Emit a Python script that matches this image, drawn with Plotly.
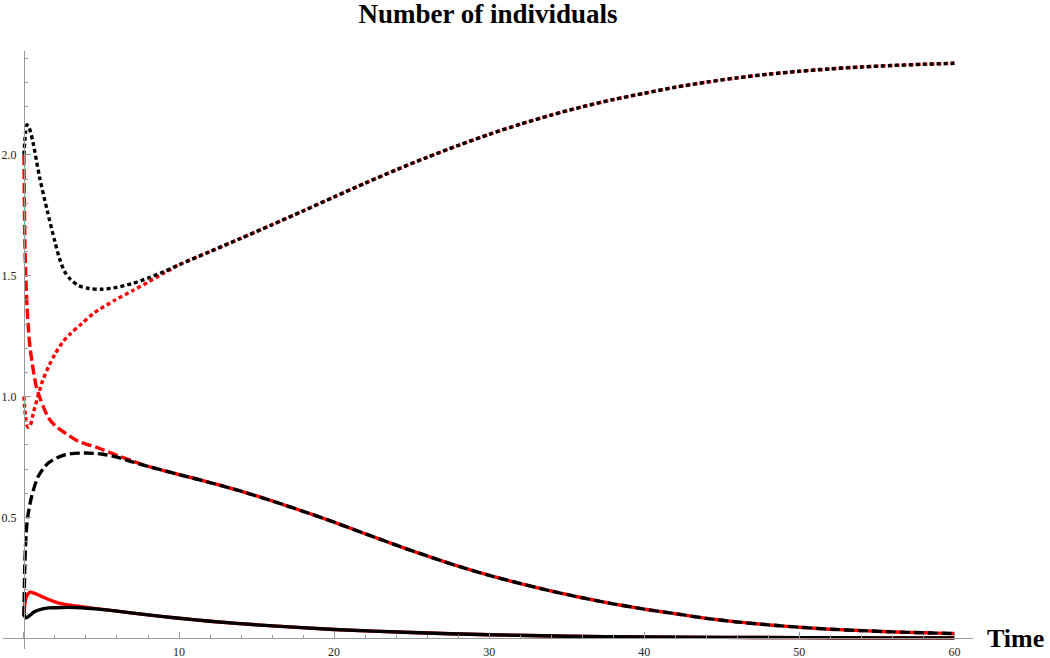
import plotly.graph_objects as go

# ---------------- data ----------------
# shared tails where red and black curves coincide
t_upper_tail = [10, 12, 14, 16, 18, 20, 22, 24, 26, 28, 30, 32, 34, 36, 38, 40, 42, 44, 46, 48, 50, 52, 54, 56, 58, 60]
v_upper_tail = [1.545, 1.600, 1.655, 1.711, 1.768, 1.826, 1.883, 1.938, 1.990, 2.039, 2.085, 2.127, 2.165, 2.199,
                2.229, 2.255, 2.280, 2.301, 2.319, 2.334, 2.346, 2.356, 2.364, 2.370, 2.375, 2.379]

t_mid_tail = [8, 10, 12, 14, 16, 18, 20, 22, 24, 26, 28, 30, 32, 34, 36, 38, 40, 42, 44, 46, 48, 50, 52, 54, 56, 58, 60]
v_mid_tail = [0.711, 0.677, 0.644, 0.608, 0.568, 0.525, 0.48, 0.432, 0.385, 0.34, 0.298, 0.26, 0.226, 0.195, 0.167,
              0.142, 0.12, 0.101, 0.082, 0.067, 0.055, 0.045, 0.037, 0.031, 0.026, 0.022, 0.019]

t_low_tail = [6, 8, 10, 12, 15, 20, 25, 30, 35, 40, 45, 50, 55, 60]
v_low_tail = [0.112, 0.096, 0.082, 0.070, 0.055, 0.036, 0.023, 0.014, 0.008, 0.005, 0.003, 0.002, 0.001, 0.001]

# early parts of each curve
t_black_dotted = [0, 0.1, 0.2, 0.35, 0.6, 1.0, 1.5, 2.0, 2.3, 2.6, 3.0, 3.5, 4.2, 5.0, 6.0, 7.0, 8.0, 9.0]
v_black_dotted = [2.0, 2.09, 2.125, 2.11, 2.047, 1.91, 1.77, 1.64, 1.57, 1.52, 1.485, 1.46, 1.447, 1.444, 1.452,
                  1.468, 1.490, 1.516]

t_red_dotted = [0, 0.1, 0.25, 0.4, 0.6, 0.9, 1.2, 1.6, 2.0, 2.5, 3.0, 3.7, 4.5, 5.9, 7.0, 8.0, 9.0]
v_red_dotted = [1.0, 0.92, 0.873, 0.88, 0.93, 1.0, 1.065, 1.125, 1.175, 1.225, 1.26, 1.30, 1.345, 1.40, 1.438,
                1.473, 1.51]

t_red_dashed = [0, 0.03, 0.06, 0.12, 0.2, 0.3, 0.4, 0.6, 0.8, 1.0, 1.3, 1.6, 2.0, 2.65, 3.5, 4.8, 6.0, 7.0]
v_red_dashed = [2.0, 1.8, 1.635, 1.5, 1.37, 1.27, 1.2, 1.11, 1.04, 1.0, 0.95, 0.91, 0.88, 0.849, 0.815, 0.787,
                0.757, 0.733]

t_black_dashed = [0, 0.06, 0.15, 0.24, 0.5, 0.92, 1.57, 2.65, 3.9, 5.0, 6.0, 7.0]
v_black_dashed = [0.09, 0.31, 0.44, 0.50, 0.587, 0.669, 0.725, 0.759, 0.766, 0.762, 0.749, 0.729]

t_red_solid = [0, 0.15, 0.4, 0.7, 1.1, 1.6, 2.2, 3.0, 3.7, 4.5]
v_red_solid = [0.1, 0.17, 0.19, 0.185, 0.174, 0.16, 0.146, 0.136, 0.13, 0.123]

t_black_solid = [0, 0.12, 0.3, 0.7, 1.2, 1.6, 2.5, 3.7, 4.8]
v_black_solid = [0.1, 0.084, 0.09, 0.11, 0.121, 0.125, 0.127, 0.126, 0.12]

x_tick_step = 10
y_tick_labels = ["0.5", "1.0", "1.5", "2.0"]
title_text = "Number of individuals"
x_label = "Time"

# ---------------- layout constants ----------------
W, H = 1050, 658
X_RANGE = [-1.35, 61.2]
Y_RANGE = [-0.045, 2.43]
M = dict(l=3, r=77, t=51, b=9)
AXIS_GRAY = "#9a9a9a"
FONT = "Liberation Serif"
RED = "#ff0000"
BLACK = "#000000"

DOT = "4px,3px"
DASH = "10px,4px"
LW = 3.4

fig = go.Figure()

def add(t_early, v_early, t_tail, v_tail, color, dash):
    fig.add_trace(go.Scatter(
        x=list(t_early) + list(t_tail), y=list(v_early) + list(v_tail),
        mode="lines", line=dict(color=color, width=LW, dash=dash, shape="spline", smoothing=0.8),
        showlegend=False, hoverinfo="skip"))

# red drawn first, black on top
add(t_red_dotted, v_red_dotted, t_upper_tail, v_upper_tail, RED, DOT)
add(t_red_dashed, v_red_dashed, t_mid_tail, v_mid_tail, RED, DASH)
add(t_red_solid, v_red_solid, t_low_tail, v_low_tail, RED, "solid")
add(t_black_dotted, v_black_dotted, t_upper_tail, v_upper_tail, BLACK, DOT)
add(t_black_dashed, v_black_dashed, t_mid_tail, v_mid_tail, BLACK, DASH)
add(t_black_solid, v_black_solid, t_low_tail, v_low_tail, BLACK, "solid")

x_pos = (0 - Y_RANGE[0]) / (Y_RANGE[1] - Y_RANGE[0])  # x-axis sits at y = 0
y_pos = (0 - X_RANGE[0]) / (X_RANGE[1] - X_RANGE[0])  # y-axis sits at t = 0

tick_font = dict(family=FONT, size=12, color="#222222")

fig.update_layout(
    width=W, height=H, margin=M,
    paper_bgcolor="white", plot_bgcolor="white",
    title=dict(text=f"<b>{title_text}</b>", font=dict(family=FONT, size=27, color="black"),
               x=0.5, xref="paper", xanchor="center", y=1 - 14 / H, yref="container", yanchor="middle"),
    xaxis=dict(range=X_RANGE, anchor="free", position=x_pos, showline=True, linecolor=AXIS_GRAY, linewidth=1,
               showgrid=False, zeroline=False, ticks="inside", ticklen=6, tickcolor=AXIS_GRAY, tickwidth=1,
               tickmode="linear", tick0=0, dtick=x_tick_step, labelalias={"0": ""}, ticklabelstandoff=2,
               minor=dict(ticks="inside", ticklen=3.5, dtick=2, tick0=0, tickcolor=AXIS_GRAY, showgrid=False),
               tickfont=tick_font, automargin=False),
    yaxis=dict(range=Y_RANGE, anchor="free", position=y_pos, showline=True, linecolor=AXIS_GRAY, linewidth=1,
               showgrid=False, zeroline=False, ticks="inside", ticklen=6, tickcolor=AXIS_GRAY, tickwidth=1,
               tickmode="array", tickvals=[float(s) for s in y_tick_labels], ticktext=y_tick_labels,
               ticklabelstandoff=5,
               minor=dict(ticks="inside", ticklen=3.5, dtick=0.1, tick0=0, tickcolor=AXIS_GRAY, showgrid=False),
               tickfont=tick_font, automargin=False),
    annotations=[dict(text=f"<b>{x_label}</b>", xref="paper", yref="paper", x=1.0443, y=x_pos,
                      xanchor="center", yanchor="middle", showarrow=False,
                      font=dict(family=FONT, size=26, color="black"))],
)

fig.write_html("out.html")
